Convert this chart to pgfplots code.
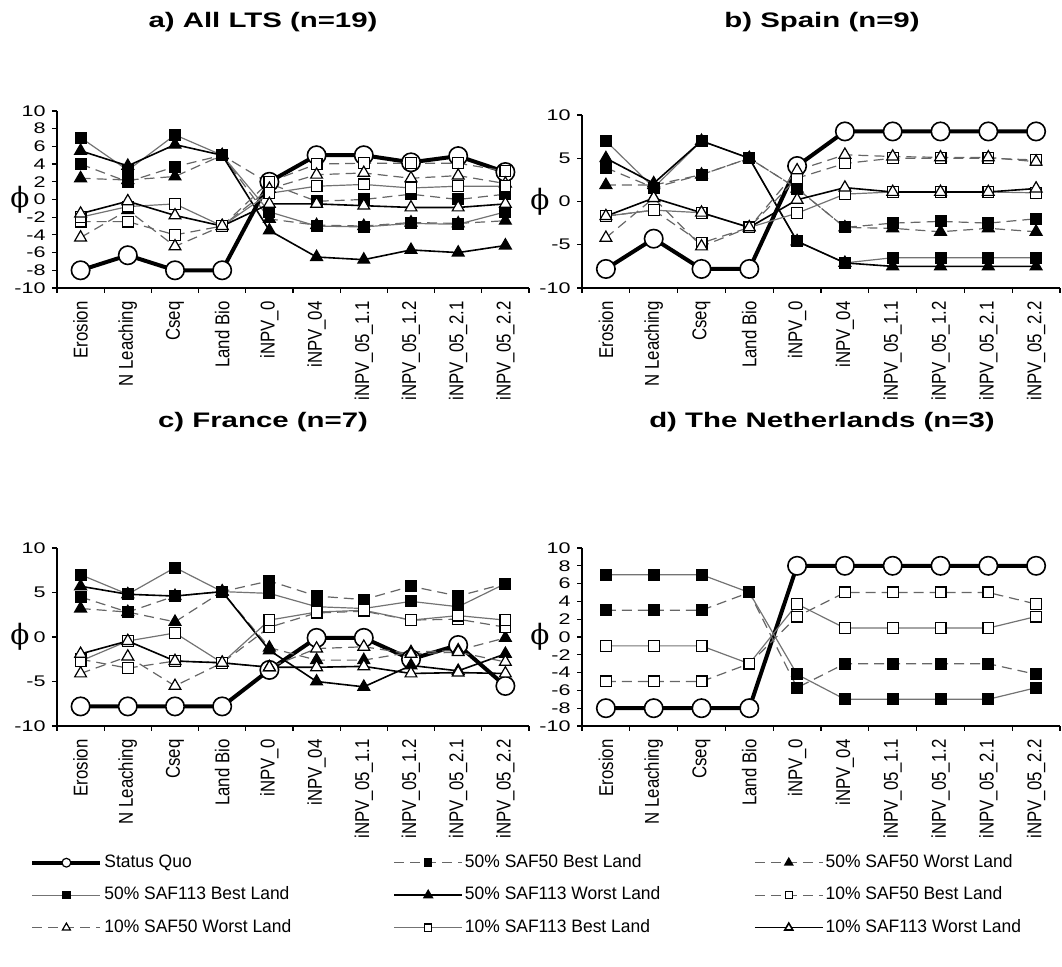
\documentclass[border=0pt]{standalone}
\usepackage{pgfplots}
\usepackage{pgfplotstable}
\pgfplotsset{compat=1.18}
\usepackage{fontspec}
\setmainfont{Liberation Sans}[FakeStretch=1.4]
\newfontfamily\rotfont{Liberation Sans}[FakeStretch=0.84]
\newfontfamily\legfont{Liberation Sans}[FakeStretch=0.97]
\newfontfamily\phifont{DejaVu Serif}

\pgfplotstableread{
x sq b5050 w5050 b50113 w50113 b1050 w1050 b10113 w10113
0 -8   4    2.4  7    5.5  -2.5 -4.3 -2   -1.6
1 -6.3 2    2.2  3.3  3.8  -2.5 -1.2 -0.8 -0.2
2 -8   3.7  2.6  7.3  6.2  -4   -5.3 -0.5 -1.8
3 -8   5    5    5    5    -3   -3   -3   -3
4 2    1.8  -2.2 -1.4 -3.5 2    1.2  0.7  -0.5
5 5    -0.2 -2.9 -3   -6.5 4    2.8  1.5  -0.5
6 5    0    -3   -3.1 -6.8 4.1  3.0  1.7  -0.7
7 4.2  0.6  -2.6 -2.7 -5.7 4.1  2.4  1.3  -0.9
8 4.9  0    -2.7 -2.8 -6   4.1  2.7  1.5  -0.9
9 3.1  0.6  -2.4 -1.4 -5.2 3.2  1.8  1.5  -0.5
}\tabA

\pgfplotstableread{
x sq b5050 w5050 b50113 w50113 b1050 w1050 b10113 w10113
0 -7.8 3.9  1.9  7    5    -1.7 -4.2 -1.7  -1.7
1 -4.3 1.6  1.9  1.6  2.1  -1.0 0.4  -1.0  0.4
2 -7.8 3.1  3.1  7    7    -4.8 -5.2 -1.3  -1.3
3 -7.8 5    5    5    5    -3   -3   -3    -3
4 4.1  1.5  1.5  -4.6 -4.6 2.7  3.6  -1.35 0.2
5 8.1  -3   -3   -7.1 -7.1 4.4  5.4  0.85  1.6
6 8.1  -2.5 -3.1 -6.5 -7.5 5    5.2  1.1   1.1
7 8.1  -2.3 -3.5 -6.5 -7.5 5    5.1  1.1   1.1
8 8.1  -2.5 -3.1 -6.5 -7.5 5    5.1  1.1   1.1
9 8.1  -2.0 -3.5 -6.5 -7.5 4.8  4.6  1.0   1.5
}\tabB

\pgfplotstableread{
x sq b5050 w5050 b50113 w50113 b1050 w1050 b10113 w10113
0 -7.8 4.5 3.2  7   5.7  -2.5 -4.1 -2.7  -1.9
1 -7.8 2.8 2.8  4.8 4.8  -3.5 -2.2 -0.45 -0.45
2 -7.8 4.6 1.7  7.8 4.6  -2.7 -5.5 0.45  -2.7
3 -7.8 5.1 5.1  5.1 5.1  -2.9 -2.9 -2.9  -2.9
4 -3.7 6.3 -1.2 4.9 -1.5 1.1  -3.4 1.9   -3.4
5 -0.1 4.6 -2.6 3.4 -5   2.7  -1.3 2.8   -3.4
6 -0.1 4.2 -2.6 3.2 -5.6 2.9  -1.1 3.0   -3.3
7 -2.5 5.7 -1.7 4.0 -3.2 1.9  -1.9 1.9   -4.1
8 -0.9 4.6 -1.5 3.4 -3.8 2.0  -1.7 2.4   -4.0
9 -5.5 6.0 -0.1 6.0 -1.9 1.1  -2.8 1.9   -4.1
}\tabC

\pgfplotstableread{
x sq b5050 b50113 b1050 b10113
0 -8 3    7    -5  -1
1 -8 3    7    -5  -1
2 -8 3    7    -5  -1
3 -8 5    5    -3  -3
4 8  -5.7 -4.2 2.3 3.7
5 8  -3   -7   5   1
6 8  -3   -7   5   1
7 8  -3   -7   5   1
8 8  -3   -7   5   1
9 8  -4.2 -5.7 3.7 2.3
}\tabD

\pgfplotsset{
  sqs/.style={black, line width=2pt, mark=*, mark size=4.6pt,
    mark options={solid, fill=white, draw=black, line width=0.8pt}},
  dsh/.style={black!60, line width=0.6pt, dash pattern=on 5pt off 3pt},
  gry/.style={black!55, line width=0.6pt, solid},
  blk/.style={black, line width=0.8pt, solid},
  fsq/.style={mark=square*, mark size=2.7pt, mark options={solid, fill=black, draw=black, line width=0.6pt}},
  osq/.style={mark=square*, mark size=2.7pt, mark options={solid, fill=white, draw=black, line width=0.6pt}},
  ftr/.style={mark=triangle*, mark size=3.4pt, mark options={solid, fill=black, draw=black, line width=0.6pt}},
  otr/.style={mark=triangle*, mark size=3.4pt, mark options={solid, fill=white, draw=black, line width=0.6pt}},
  panel/.style={
    scale only axis, anchor=south west,
    xmin=-0.5, xmax=9.5, ymin=-10, ymax=10,
    axis lines*=left, axis line style={black, line width=0.6pt},
    xtick={0,...,9},
    xticklabels={Erosion,N Leaching,Cseq,Land Bio,iNPV\_0,iNPV\_04,iNPV\_05\_1.1,iNPV\_05\_1.2,iNPV\_05\_2.1,iNPV\_05\_2.2},
    major x tick style={draw=none},
    minor xtick={-0.5,0.5,...,9.5},
    tick align=outside, major tick length=2.5pt, minor tick length=2.5pt,
    tick style={black, line width=0.6pt},
    xticklabel style={rotate=90, anchor=east, font=\rotfont\fontsize{10}{12}\selectfont, inner sep=0pt},
    yticklabel style={font=\fontsize{7.7}{9}\selectfont, inner sep=0pt, anchor=east},
    xticklabel shift=4pt, yticklabel shift=3pt,
    clip=false,
  },
}

\begin{document}
\begin{tikzpicture}
\useasboundingbox (0,0) rectangle (531pt,-483.5pt);

% titles
\node[font=\bfseries\fontsize{10.5}{12}\selectfont] at (131.5pt,-11pt) {a) All LTS (n=19)};
\node[font=\bfseries\fontsize{10.5}{12}\selectfont] at (411pt,-11pt) {b) Spain (n=9)};
\node[font=\bfseries\fontsize{10.5}{12}\selectfont] at (131.5pt,-211pt) {c) France (n=7)};
\node[font=\bfseries\fontsize{10.5}{12}\selectfont] at (411pt,-211pt) {d) The Netherlands (n=3)};

% a
\begin{axis}[panel, at={(28.5pt,-144pt)}, width=236pt, height=88.5pt,
  ytick={-10,-8,...,10}, yticklabels={-10,-8,-6,-4,-2,0,2,4,6,8,10}]
\addplot[sqs] table[x=x,y=sq]{\tabA};
\addplot[dsh,fsq] table[x=x,y=b5050]{\tabA};
\addplot[dsh,ftr] table[x=x,y=w5050]{\tabA};
\addplot[gry,fsq] table[x=x,y=b50113]{\tabA};
\addplot[blk,ftr] table[x=x,y=w50113]{\tabA};
\addplot[dsh,osq] table[x=x,y=b1050]{\tabA};
\addplot[dsh,otr] table[x=x,y=w1050]{\tabA};
\addplot[gry,osq] table[x=x,y=b10113]{\tabA};
\addplot[blk,otr] table[x=x,y=w10113]{\tabA};
\node[font=\phifont\fontsize{14}{14}\selectfont] at (rel axis cs:0,0.5) [xshift=-18.5pt] {ϕ};
\end{axis}

% b
\begin{axis}[panel, at={(291pt,-144pt)}, width=239pt, height=86.5pt,
  ytick={-10,-5,...,10}, yticklabels={-10,-5,0,5,10}]
\addplot[sqs] table[x=x,y=sq]{\tabB};
\addplot[dsh,fsq] table[x=x,y=b5050]{\tabB};
\addplot[dsh,ftr] table[x=x,y=w5050]{\tabB};
\addplot[gry,fsq] table[x=x,y=b50113]{\tabB};
\addplot[blk,ftr] table[x=x,y=w50113]{\tabB};
\addplot[dsh,osq] table[x=x,y=b1050]{\tabB};
\addplot[dsh,otr] table[x=x,y=w1050]{\tabB};
\addplot[gry,osq] table[x=x,y=b10113]{\tabB};
\addplot[blk,otr] table[x=x,y=w10113]{\tabB};
\node[font=\phifont\fontsize{14}{14}\selectfont] at (rel axis cs:0,0.5) [xshift=-21pt] {ϕ};
\end{axis}

% c
\begin{axis}[panel, at={(28.5pt,-363pt)}, width=236pt, height=89pt,
  ytick={-10,-5,...,10}, yticklabels={-10,-5,0,5,10}]
\addplot[sqs] table[x=x,y=sq]{\tabC};
\addplot[dsh,fsq] table[x=x,y=b5050]{\tabC};
\addplot[dsh,ftr] table[x=x,y=w5050]{\tabC};
\addplot[gry,fsq] table[x=x,y=b50113]{\tabC};
\addplot[blk,ftr] table[x=x,y=w50113]{\tabC};
\addplot[dsh,osq] table[x=x,y=b1050]{\tabC};
\addplot[dsh,otr] table[x=x,y=w1050]{\tabC};
\addplot[gry,osq] table[x=x,y=b10113]{\tabC};
\addplot[blk,otr] table[x=x,y=w10113]{\tabC};
\node[font=\phifont\fontsize{14}{14}\selectfont] at (rel axis cs:0,0.5) [xshift=-18.5pt] {ϕ};
\end{axis}

% d
\begin{axis}[panel, at={(291pt,-363pt)}, width=239pt, height=89pt,
  ytick={-10,-8,...,10}, yticklabels={-10,-8,-6,-4,-2,0,2,4,6,8,10}]
\addplot[sqs] table[x=x,y=sq]{\tabD};
\addplot[dsh,fsq] table[x=x,y=b5050]{\tabD};
\addplot[gry,fsq] table[x=x,y=b50113]{\tabD};
\addplot[dsh,osq] table[x=x,y=b1050]{\tabD};
\addplot[gry,osq] table[x=x,y=b10113]{\tabD};
\node[font=\phifont\fontsize{14}{14}\selectfont] at (rel axis cs:0,0.5) [xshift=-21pt] {ϕ};
\end{axis}

% legend
\begin{axis}[hide axis, scale only axis, width=1pt, height=1pt, at={(12pt,-425pt)}, anchor=south west,
  xmin=0, xmax=1, ymin=0, ymax=1,
  legend columns=3,
  legend image code/.code={\draw[mark repeat=2,mark phase=2,#1] plot coordinates {(0pt,0pt) (17pt,0pt) (34pt,0pt)};},
  legend style={at={(0,0)}, anchor=north west, draw=none, fill=none,
    font=\legfont\fontsize{9}{10}\selectfont,
    nodes={inner sep=0pt, text height=6.5pt, text depth=1.8pt, anchor=west},
    row sep=7.95pt,
    /tikz/every odd column/.append style={column sep=1pt}},
]
\addlegendimage{black, line width=2pt, mark=*, mark size=2.2pt, mark options={solid, fill=white, draw=black, line width=0.6pt}}
\addlegendentry{\makebox[144.5pt][l]{Status Quo}}
\addlegendimage{dsh, mark=square*, mark size=1.8pt, mark options={solid, fill=black, draw=black}}
\addlegendentry{\makebox[144.5pt][l]{50\% SAF50 Best Land}}
\addlegendimage{dsh, mark=triangle*, mark size=2.3pt, mark options={solid, fill=black, draw=black}}
\addlegendentry{50\% SAF50 Worst Land}
\addlegendimage{gry, mark=square*, mark size=1.8pt, mark options={solid, fill=black, draw=black}}
\addlegendentry{\makebox[144.5pt][l]{50\% SAF113 Best Land}}
\addlegendimage{blk, mark=triangle*, mark size=2.3pt, mark options={solid, fill=black, draw=black}}
\addlegendentry{\makebox[144.5pt][l]{50\% SAF113 Worst Land}}
\addlegendimage{dsh, mark=square*, mark size=1.8pt, mark options={solid, fill=white, draw=black}}
\addlegendentry{10\% SAF50 Best Land}
\addlegendimage{dsh, mark=triangle*, mark size=2.3pt, mark options={solid, fill=white, draw=black}}
\addlegendentry{\makebox[144.5pt][l]{10\% SAF50 Worst Land}}
\addlegendimage{gry, mark=square*, mark size=1.8pt, mark options={solid, fill=white, draw=black}}
\addlegendentry{\makebox[144.5pt][l]{10\% SAF113 Best Land}}
\addlegendimage{blk, mark=triangle*, mark size=2.3pt, mark options={solid, fill=white, draw=black}}
\addlegendentry{10\% SAF113 Worst Land}
\end{axis}
\end{tikzpicture}
\end{document}
